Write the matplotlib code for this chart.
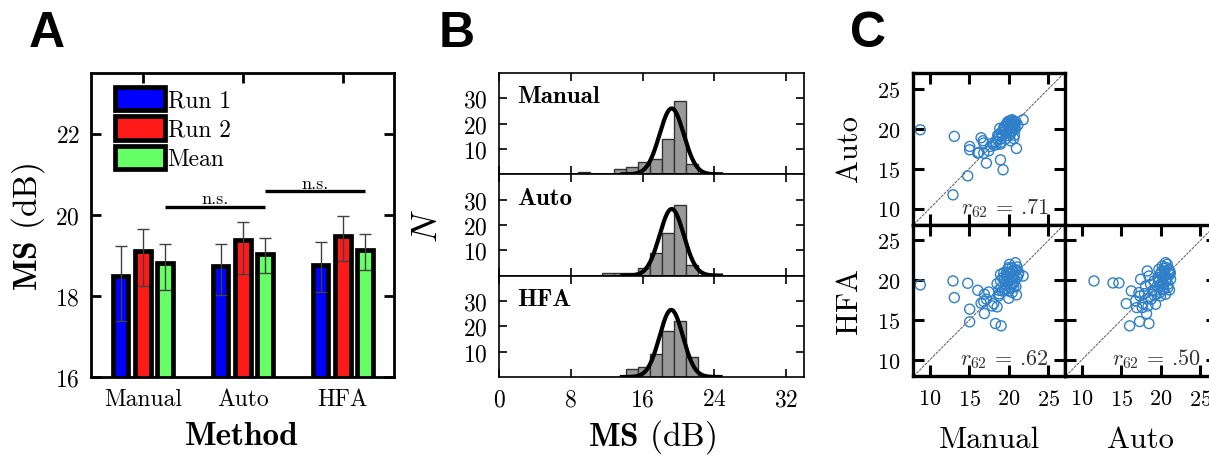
import numpy as np
import matplotlib
matplotlib.use('Agg')
import matplotlib.pyplot as plt

plt.rcParams['font.family'] = 'serif'
plt.rcParams['font.serif'] = ['cmr10', 'DejaVu Serif']
plt.rcParams['mathtext.fontset'] = 'cm'
plt.rcParams['axes.unicode_minus'] = False
plt.rcParams['axes.formatter.use_mathtext'] = True

# ---------------- data ----------------
methods = ['Manual', 'Auto', 'HFA']
series_names = ['Run 1', 'Run 2', 'Mean']
run1 = [18.50, 18.73, 18.77]
run2 = [19.10, 19.39, 19.49]
mean = [18.81, 19.04, 19.14]
run1_lo = [17.38, 18.03, 18.09]
run1_hi = [19.22, 19.28, 19.32]
run2_lo = [18.25, 18.54, 18.87]
run2_hi = [19.64, 19.82, 19.98]
mean_lo = [18.15, 18.56, 18.65]
mean_hi = [19.28, 19.44, 19.53]
ns_heights = [20.2, 20.58]

hist_bins = [8.85, 10.185, 11.52, 12.855, 14.19, 15.525, 16.86, 18.195, 19.53, 20.865, 22.2]
counts_manual = [1, 0, 0, 2, 3, 5, 6, 14, 29, 4]
counts_auto = [0, 0, 1, 1, 1, 3, 9, 17, 28, 4]
counts_hfa = [0, 0, 0, 0, 3, 4, 9, 18, 22, 8]
fit_mu = [19.25, 19.25, 19.2]
fit_sigma = [1.35, 1.35, 1.3]
fit_peak = [26.0, 26.3, 26.5]

man_x = [8.82, 13.12, 12.95, 14.81, 15.06, 15.06, 16.08, 16.50, 16.75, 16.84, 17.17, 16.84, 17.47,
         17.68, 18.31, 18.61, 18.95, 19.28, 18.95, 18.73, 19.03, 18.86, 19.37, 19.58, 19.79, 20.00,
         20.13, 20.42, 20.55, 20.21, 20.63, 20.97, 20.21, 19.58, 20.84, 21.14, 21.81, 19.87, 20.30,
         20.63, 19.16, 19.70, 20.42, 20.72, 20.00, 18.95, 18.10, 16.20,
         19.9, 20.3, 19.5, 20.8, 20.1, 19.3, 20.5, 18.6, 20.9, 19.7, 20.4, 19.0, 17.9, 20.7, 18.4, 20.2]
auto_y = [19.88, 19.05, 11.72, 14.10, 17.79, 17.37, 16.95, 18.88, 18.50, 18.21, 15.70, 16.95, 17.24,
          17.79, 18.38, 18.71, 16.11, 14.86, 18.08, 19.13, 19.55, 20.05, 20.18, 19.76, 20.72, 20.18,
          21.01, 21.14, 20.59, 19.34, 18.79, 17.54, 18.50, 18.71, 19.97, 20.47, 21.14, 20.39, 20.39,
          20.80, 19.13, 19.46, 19.76, 20.18, 19.13, 18.71, 17.96, 17.04,
          20.9, 20.6, 20.3, 20.6, 19.5, 19.9, 20.3, 19.2, 20.9, 20.6, 21.0, 18.3, 18.2, 19.2, 18.0, 20.0]

man2_x = [8.82, 12.95, 13.12, 14.81, 15.06, 15.06, 16.08, 16.92, 16.84, 16.50, 17.17, 17.47, 16.92,
          17.89, 18.31, 19.03, 18.52, 18.10, 18.73, 18.52, 18.95, 19.37, 19.87, 20.42, 20.84, 21.05,
          20.21, 20.63, 21.05, 21.81, 20.97, 20.00, 19.45, 19.03, 19.58, 20.21, 20.55, 20.00, 20.42,
          19.45, 19.87, 20.42, 20.84, 18.95, 20.08, 19.16, 18.73, 21.26, 19.70, 20.63,
          20.1, 20.5, 19.7, 21.0, 20.3, 19.2, 20.7, 20.9, 19.6, 20.0, 21.2, 18.8, 20.4, 19.9]
hfa_y1 = [19.42, 19.92, 17.83, 19.63, 16.38, 14.79, 18.75, 15.83, 17.33, 17.13, 17.63, 18.54, 18.25,
          16.79, 14.58, 14.29, 16.67, 17.08, 18.04, 19.58, 20.75, 20.96, 21.38, 21.58, 22.21, 21.67,
          20.83, 20.54, 20.33, 20.54, 18.17, 17.75, 18.67, 19.08, 19.50, 19.17, 19.58, 18.67, 18.46,
          20.13, 19.92, 20.13, 21.17, 19.92, 22.00, 18.67, 18.75, 20.96, 20.54, 19.17,
          21.0, 21.2, 21.0, 21.3, 20.4, 20.3, 19.9, 19.2, 19.0, 21.6, 20.7, 18.3, 19.6, 20.3]

auto2_x = [11.56, 13.96, 14.71, 15.64, 16.06, 17.32, 18.50, 16.82, 16.27, 17.24, 17.45, 17.66, 18.20,
           17.74, 18.38, 18.29, 18.50, 18.08, 18.92, 18.80, 19.34, 19.97, 20.60, 20.90, 20.73, 21.15,
           20.60, 20.18, 19.76, 19.97, 19.64, 20.18, 19.55, 19.22, 20.39, 20.48, 21.03, 20.31, 19.76,
           19.13, 18.71, 17.37, 17.95, 16.95, 18.38, 20.82, 21.24, 19.89, 19.22, 20.39,
           20.4, 20.7, 20.1, 21.0, 20.5, 19.8, 20.9, 21.1, 20.2, 20.6, 21.2, 19.5, 20.0, 20.8]
hfa_y2 = [19.92, 19.67, 19.67, 17.08, 14.29, 14.83, 14.58, 17.42, 18.67, 18.46, 20.13, 16.58, 15.83,
          17.08, 17.75, 21.17, 20.54, 19.29, 18.67, 17.63, 17.00, 18.04, 18.25, 19.08, 20.13, 20.75,
          22.21, 21.79, 21.38, 20.75, 20.33, 19.71, 19.29, 18.67, 18.88, 21.17, 21.38, 20.33, 19.83,
          19.92, 19.50, 18.04, 18.33, 16.58, 16.79, 22.00, 20.13, 18.46, 18.04, 19.50,
          21.5, 21.6, 21.1, 20.9, 20.6, 20.0, 19.5, 18.8, 18.9, 19.9, 21.0, 18.3, 20.9, 20.3]

r_labels = ['.71', '.62', '.50']

# ---------------- figure ----------------
W, H = 1209, 460
fig = plt.figure(figsize=(W / 100, H / 100), dpi=100)


def fx(px):
    return px / W


def fy(py):
    return 1 - py / H


# ---------- Panel A ----------
axA = fig.add_axes([fx(91), fy(378), fx(394) - fx(91), fy(74) - fy(378)])
x = np.arange(len(methods))
offs = [-0.225, 0.0, 0.222]
colors = ['#0000ff', '#ff1a1a', '#66ff66']
vals = [run1, run2, mean]
los = [run1_lo, run2_lo, mean_lo]
his = [run1_hi, run2_hi, mean_hi]
for i in range(3):
    v = np.array(vals[i])
    axA.bar(x + offs[i], v, width=0.155, color=colors[i], edgecolor='black', linewidth=3.4,
            label=series_names[i], zorder=2)
    yerr = [v - np.array(los[i]), np.array(his[i]) - v]
    axA.errorbar(x + offs[i], v, yerr=yerr, fmt='none', ecolor='0.25', elinewidth=1.0,
                 capsize=4.5, capthick=1.0, zorder=3)
# n.s. brackets
for k in range(2):
    x0 = x[k] + offs[2]
    x1 = x[k + 1] + offs[2]
    axA.plot([x0, x1], [ns_heights[k], ns_heights[k]], color='black', lw=2.4,
             solid_capstyle='butt', zorder=4)
    axA.text((x0 + x1) / 2, ns_heights[k] + 0.01, 'n.s.', ha='center', va='bottom', fontsize=13)
axA.set_xlim(-0.52, 2.51)
axA.set_ylim(16, 23.5)
axA.set_yticks([16, 18, 20, 22])
axA.set_xticks(x)
axA.set_xticklabels(methods)
axA.tick_params(direction='in', top=True, right=True, length=7, width=2.0, labelsize=17, pad=8)
for s in axA.spines.values():
    s.set_linewidth(2.0)
leg = axA.legend(loc='upper left', bbox_to_anchor=(0.08, 0.955), frameon=False, fontsize=17,
                 handlelength=2.1, handleheight=1.15, handletextpad=0.12, labelspacing=0.2,
                 borderaxespad=0.0, borderpad=0.0)
fig.text(fx(28), fy(227), r'$\mathbf{MS}$ (dB)', rotation=90, ha='center', va='center', fontsize=24)
fig.text(fx(242), fy(437), 'Method', ha='center', va='center', fontsize=24, family='cmb10')

# ---------- Panel B ----------
counts_all = [counts_manual, counts_auto, counts_hfa]
tops = [74, 175.3, 276.7]
edges = np.array(hist_bins)
for i in range(3):
    t = tops[i]
    ax = fig.add_axes([fx(499), fy(t + 101.3), fx(804) - fx(499), fy(t) - fy(t + 101.3)])
    ax.bar(edges[:-1], counts_all[i], width=np.diff(edges), align='edge', color='#999999',
           edgecolor='#333333', linewidth=1.0, zorder=2)
    xs = np.linspace(fit_mu[i] - 5.5, fit_mu[i] + 5.5, 300)
    ys = fit_peak[i] * np.exp(-0.5 * ((xs - fit_mu[i]) / fit_sigma[i]) ** 2)
    ax.plot(xs, ys, color='black', lw=3.0, zorder=3)
    ax.set_xlim(0, 34)
    ax.set_ylim(0, 40)
    ax.set_yticks([10, 20, 30])
    ax.set_xticks([0, 8, 16, 24, 32])
    ax.tick_params(direction='in', top=True, right=True, length=6, width=1.2, labelsize=17, pad=8)
    if i < 2:
        ax.tick_params(labelbottom=False)
    for s in ax.spines.values():
        s.set_linewidth(1.2)
    ax.text(0.06, 0.71, methods[i], transform=ax.transAxes, fontsize=18, family='cmb10',
            ha='left', va='baseline')
fig.text(fx(428), fy(226), r'$N$', rotation=90, ha='center', va='center', fontsize=26)
fig.text(fx(652), fy(437), r'$\mathbf{MS}$ (dB)', ha='center', va='center', fontsize=24)

# ---------- Panel C ----------
scat = [(man_x, auto_y, 913, 74), (man2_x, hfa_y1, 913, 225.5), (auto2_x, hfa_y2, 1065, 225.5)]
for j, (sx, sy, left, top) in enumerate(scat):
    ax = fig.add_axes([fx(left), fy(top + 151.5), fx(152), fy(top) - fy(top + 151.5)])
    ax.plot([8, 27], [8, 27], color='0.35', lw=0.7, ls=(0, (3, 1)), zorder=1)
    ax.scatter(sx, sy, s=52, facecolors='none', edgecolors='#2f80c8', linewidths=1.0, zorder=2)
    ax.set_xlim(7.9, 27.1)
    ax.set_ylim(8.0, 27.0)
    ax.set_xticks([10, 15, 20, 25])
    ax.set_yticks([10, 15, 20, 25])
    ax.tick_params(direction='in', top=True, right=True, length=8, width=2.2, labelsize=16, pad=9)
    if j == 0:
        ax.tick_params(labelbottom=False)
    if j == 2:
        ax.tick_params(labelleft=False)
    for s in ax.spines.values():
        s.set_linewidth(2.4)
    ax.text(0.89, 0.075, r'$r_{62}$ = ' + r_labels[j], transform=ax.transAxes, ha='right',
            va='baseline', fontsize=16, color='0.2')
fig.text(fx(849), fy(149), 'Auto', rotation=90, ha='center', va='center', fontsize=22)
fig.text(fx(849), fy(301), 'HFA', rotation=90, ha='center', va='center', fontsize=22)
fig.text(fx(989), fy(440), 'Manual', ha='center', va='center', fontsize=22)
fig.text(fx(1140), fy(440), 'Auto', ha='center', va='center', fontsize=22)

# panel letters
for lab, cx in zip(['A', 'B', 'C'], [47, 457, 868]):
    fig.text(fx(cx), fy(34), lab, ha='center', va='center', fontsize=36, fontweight='bold',
             family='Liberation Sans')

fig.savefig('out.png', dpi=100)
